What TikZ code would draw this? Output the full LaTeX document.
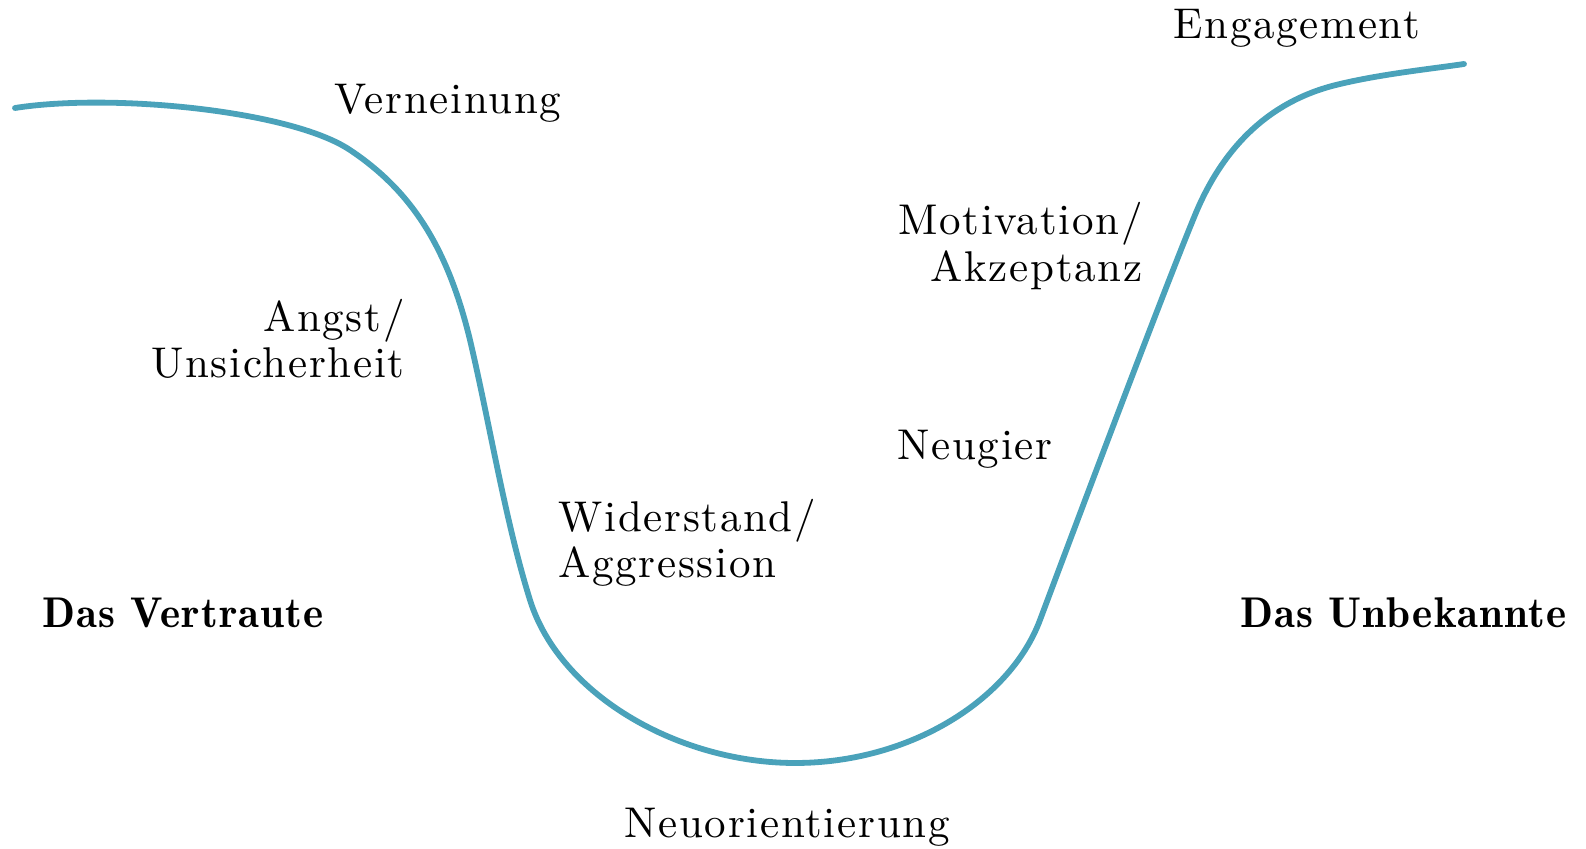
\documentclass[tikz,border=0pt]{standalone}
\usepackage{fontspec}
\setmainfont{lmroman10-regular.otf}[BoldFont=lmromandemi10-regular.otf, LetterSpace=4, BoldFeatures={LetterSpace=2.5}]
\definecolor{curveblue}{RGB}{74,162,186}
\begin{document}
\begin{tikzpicture}[x=0.5pt,y=-0.5pt,
  lbl/.style={inner sep=0pt, font=\fontsize{21.5pt}{25pt}\selectfont},
  hdr/.style={lbl, font=\fontsize{21.5pt}{25pt}\selectfont\bfseries},
  changecurve/.style={draw=curveblue, line width=2.9pt, line cap=round}]
\useasboundingbox (0,0) rectangle (1586,849);
\coordinate (cstart) at (15,108);
\coordinate (cend) at (1464,64);
\draw[changecurve] (cstart)
  .. controls (110,93) and (290,110) .. (350,150)
  .. controls (410,190) and (447,245) .. (470,340)
  .. controls (490,425) and (505,520) .. (530,600)
  .. controls (560,696) and (680,763) .. (795,763)
  .. controls (910,763) and (1010,700) .. (1040,620)
  .. controls (1070,540) and (1160,300) .. (1195,215)
  .. controls (1223,147) and (1270,100) .. (1340,84)
  .. controls (1382,74) and (1430,69) .. (cend);
\node[lbl, anchor=base west] (vern) at (334,114) {Verneinung};
\node[lbl, anchor=base west] (eng) at (1173,39) {Engagement};
\node[lbl, anchor=base east] (mot) at (1143,235) {Motivation/};
\node[lbl, anchor=base east] (akz) at (1143,282) {Akzeptanz};
\node[lbl, anchor=base east] (angst) at (405,332) {Angst/};
\node[lbl, anchor=base east] (unsich) at (405,378) {Unsicherheit};
\node[lbl, anchor=base west] (neug) at (897,460) {Neugier};
\node[lbl, anchor=base west] (wid) at (558,532) {Widerstand/};
\node[lbl, anchor=base west] (aggr) at (558,578) {Aggression};
\node[hdr, anchor=base west] (vertr) at (42,628) {Das Vertraute};
\node[hdr, anchor=base west] (unbek) at (1240,628) {Das Unbekannte};
\node[lbl, anchor=base west] (neuor) at (624,837) {Neuorientierung};
\end{tikzpicture}
\end{document}
